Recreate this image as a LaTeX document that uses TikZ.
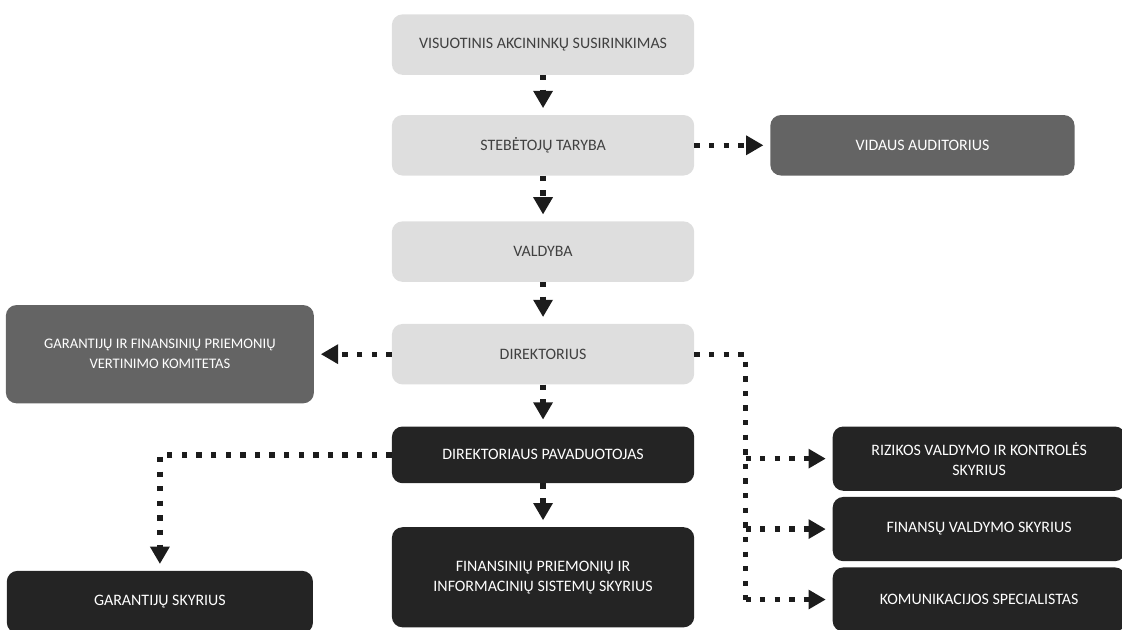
\documentclass[tikz,border=0pt]{standalone}
\usepackage{fontspec}
\setmainfont{Carlito}
\usetikzlibrary{positioning, arrows.meta}
\definecolor{LightGrey}{RGB}{222, 222, 222}
\definecolor{MidGrey}{RGB}{100, 100, 100}
\definecolor{DarkGrey}{RGB}{36, 36, 36}
\definecolor{LinkGrey}{RGB}{28, 28, 28}

\begin{document}
\begin{tikzpicture}[
  box/.style={%
    rectangle, rounded corners=8pt,
    minimum width=8cm, minimum height=1.6cm,
    align=center, inner sep=4pt,
    font=\fontsize{12}{15}\selectfont},
  lightbox/.style={box, fill=LightGrey, text=black!75},
  midbox/.style={box, fill=MidGrey, text=white},
  darkbox/.style={box, fill=DarkGrey, text=white},
  link/.style={line width=4pt, color=LinkGrey, dash pattern=on 4pt off 7pt},
  arr/.style={link, -{Triangle[width=14pt, length=13pt]}, shorten >=5pt}
]
\useasboundingbox (0,0) rectangle (29.69,-16.67);

\node[lightbox] (vis) at (14.37,-1.18) {VISUOTINIS AKCININKŲ SUSIRINKIMAS};
\node[lightbox, below=1.05cm of vis]  (steb) {STEBĖTOJŲ TARYBA};
\node[lightbox, below=1.2cm of steb]  (vald) {VALDYBA};
\node[lightbox, below=1.1cm of vald]  (dir)  {DIREKTORIUS};
\node[darkbox, below=1.1cm of dir, minimum height=1.5cm] (pav) {DIREKTORIAUS PAVADUOTOJAS};
\node[darkbox, below=1.15cm of pav, minimum height=2.65cm] (finis)
  {FINANSINIŲ PRIEMONIŲ IR\\INFORMACINIŲ SISTEMŲ SKYRIUS};

\node[midbox, right=2cm of steb, minimum width=8.05cm] (aud) {VIDAUS AUDITORIUS};
\node[midbox, left=2.05cm of dir, minimum width=8.15cm, minimum height=2.6cm,
  font=\fontsize{11}{15}\selectfont] (komit)
  {GARANTIJŲ IR FINANSINIŲ PRIEMONIŲ\\VERTINIMO KOMITETAS};
\node[darkbox, below=4.42cm of komit, minimum width=8.1cm, minimum height=1.65cm] (gar)
  {GARANTIJŲ SKYRIUS};

\node[darkbox, right=3.65cm of pav, yshift=-0.1cm, minimum width=7.75cm, minimum height=1.7cm] (riz)
  {RIZIKOS VALDYMO IR KONTROLĖS\\SKYRIUS};
\node[darkbox, below=0.15cm of riz, minimum width=7.75cm, minimum height=1.7cm] (finv)
  {FINANSŲ VALDYMO SKYRIUS};
\node[darkbox, below=0.15cm of finv, minimum width=7.75cm, minimum height=1.7cm] (komun)
  {KOMUNIKACIJOS SPECIALISTAS};

\draw[arr] (vis)  -- (steb);
\draw[arr] (steb) -- (vald);
\draw[arr] (vald) -- (dir);
\draw[arr] (dir)  -- (pav);
\draw[arr] (pav)  -- (finis);
\draw[arr] (steb) -- (aud);
\draw[arr] (dir)  -- (komit);
\draw[arr] (pav.west) -| (gar.north);

\coordinate[right=1.35cm of dir.east] (bus);
\draw[link] (dir.east) -| (bus |- komun.west);
\draw[arr] (bus |- riz.west)   -- (riz.west);
\draw[arr] (bus |- finv.west)  -- (finv.west);
\draw[arr] (bus |- komun.west) -- (komun.west);
\end{tikzpicture}
\end{document}
